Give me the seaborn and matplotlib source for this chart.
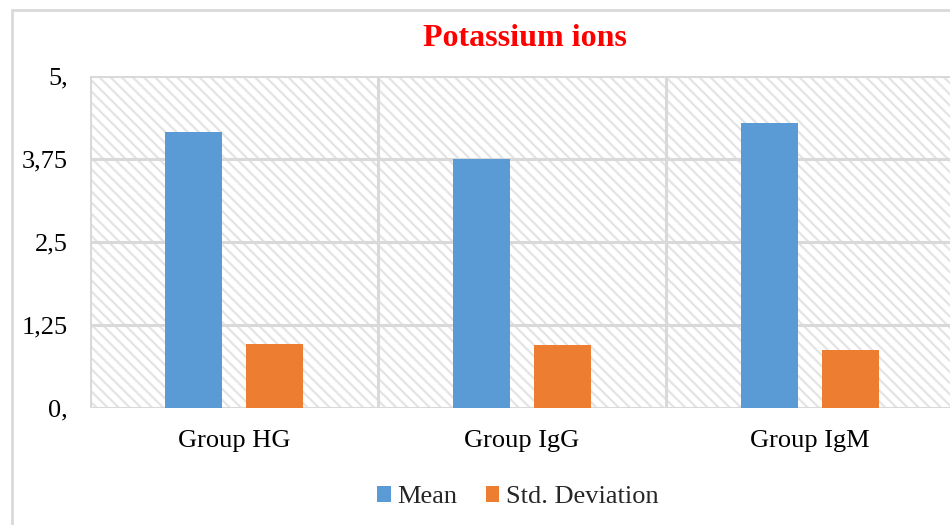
import matplotlib
matplotlib.use('Agg')
import matplotlib.pyplot as plt
from matplotlib.patches import Rectangle
from matplotlib.ticker import FixedLocator
import pandas as pd
import seaborn as sns

# values
groups = ['Group HG', 'Group IgG', 'Group IgM']
mean_vals = [4.16, 3.75, 4.29]
std_vals = [0.96, 0.95, 0.87]
series = ['Mean', 'Std. Deviation']
y_ticks = [0, 1.25, 2.5, 3.75, 5]
y_labels = ['0,', '1,25', '2,5', '3,75', '5,']

df = pd.DataFrame({
    'group': groups * 2,
    'stat': [series[0]] * len(groups) + [series[1]] * len(groups),
    'value': mean_vals + std_vals,
})

sns.set_style('white')
plt.rcParams['font.family'] = ['Liberation Serif', 'DejaVu Serif']
plt.rcParams['hatch.linewidth'] = 1.6
grid_col = '#d9d9d9'

fig = plt.figure(figsize=(9.5, 5.25), dpi=100)
ax = fig.add_axes([90 / 950, 1 - 408 / 525, 864 / 950, 332 / 525])

# hatched plot-area background
ax.add_patch(Rectangle((0, 0), 1, 1, transform=ax.transAxes, facecolor='white',
                       edgecolor='#e4e4e4', linewidth=0, hatch='\\\\\\', zorder=0))

sns.barplot(data=df, x='group', y='value', hue='stat', order=groups, hue_order=series,
            palette=['#5B9BD5', '#ED7D31'], width=0.56, gap=0.29, saturation=1,
            linewidth=0, ax=ax, zorder=3)

ax.set_xlim(-0.5, 2.5)
ax.set_ylim(0, 5)
ax.set_yticks(y_ticks)
ax.set_yticklabels(y_labels)
ax.xaxis.set_minor_locator(FixedLocator([-0.5, 0.5, 1.5, 2.5]))
ax.grid(True, which='major', axis='y', color=grid_col, linewidth=2.2, zorder=1)
ax.grid(True, which='minor', axis='x', color=grid_col, linewidth=2.2, zorder=1)
ax.grid(False, which='major', axis='x')
ax.set_axisbelow(True)
for s in ax.spines.values():
    s.set_visible(False)
ax.tick_params(axis='both', which='both', length=0, labelsize=19, colors='black')
ax.tick_params(axis='y', pad=16)
ax.tick_params(axis='x', pad=16)
ax.set_xlabel('')
ax.set_ylabel('')

fig.text(525 / 950, 1 - 38 / 525, 'Potassium ions', color='red', fontsize=23,
         fontweight='bold', ha='center', va='center')

ax.legend(loc='center', bbox_to_anchor=(518 / 950, 1 - 497 / 525),
          bbox_transform=fig.transFigure, ncol=2, frameon=False, fontsize=19,
          handlelength=0.5, handleheight=0.6, handletextpad=0.25, columnspacing=1.1)

# outer chart frame
fig.patches.append(Rectangle((12 / 950, -0.05), 1.0, 1 - 10 / 525 + 0.05,
                             transform=fig.transFigure, fill=False,
                             edgecolor=grid_col, linewidth=2, zorder=0))

fig.savefig('out.png', dpi=100)
